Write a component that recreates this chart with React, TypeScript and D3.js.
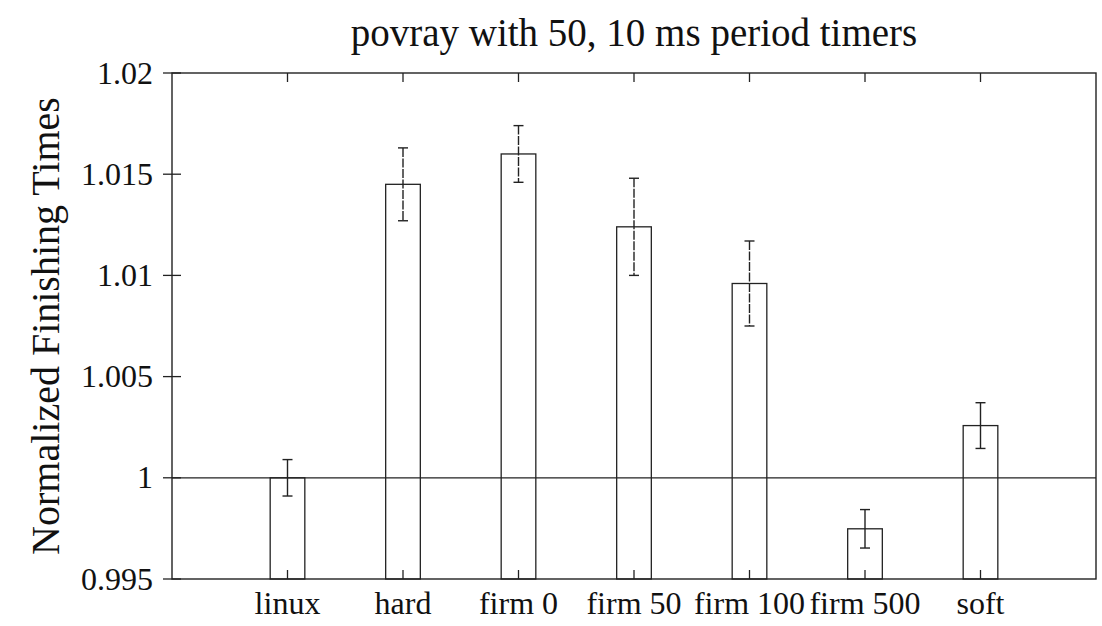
import React from "react";
import * as d3 from "d3";

const categories = ["linux", "hard", "firm 0", "firm 50", "firm 100", "firm 500", "soft"];
const values = [1.0, 1.0145, 1.016, 1.0124, 1.0096, 0.99748, 1.00258];
const errors = [0.0009, 0.0018, 0.0014, 0.0024, 0.0021, 0.00095, 0.00113];
const yTicks = [0.995, 1.0, 1.005, 1.01, 1.015, 1.02];
const yTickLabels = ["0.995", "1", "1.005", "1.01", "1.015", "1.02"];
const title = "povray with 50, 10 ms period timers";
const yLabel = "Normalized Finishing Times";

const W = 1102;
const H = 626;
const left = 172;
const right = 1096;
const top = 73;
const bottom = 579;
const font = `"Liberation Serif", "Times New Roman", serif`;

export default function App() {
  const x = d3.scaleLinear().domain([0, categories.length + 1]).range([left, right]);
  const y = d3.scaleLinear().domain([0.995, 1.02]).range([bottom, top]);
  const barHalf = 0.15;
  const cap = 5;
  const tick = 9;
  const ts = { fontFamily: font };

  return (
    <svg
      width={W}
      height={H}
      style={{ position: "absolute", left: 0, top: 0, background: "#fff" }}
    >
      <rect x={0} y={0} width={W} height={H} fill="#fff" />
      <line x1={left} x2={right} y1={y(1)} y2={y(1)} stroke="#222" strokeWidth={1.3} />
      {values.map((v, i) => {
        const x0 = x(i + 1 - barHalf);
        const x1 = x(i + 1 + barHalf);
        return (
          <rect
            key={"b" + i}
            x={x0}
            y={y(v)}
            width={x1 - x0}
            height={bottom - y(v)}
            fill="none"
            stroke="#222"
            strokeWidth={1.3}
          />
        );
      })}
      {values.map((v, i) => {
        const cx = x(i + 1);
        const yt = y(v + errors[i]);
        const yb = y(v - errors[i]);
        return (
          <g key={"e" + i} stroke="#222" strokeWidth={1.4} fill="none">
            <line x1={cx} x2={cx} y1={yt} y2={yb} strokeDasharray={errors[i] > 0.0012 ? "9,1.5" : undefined} />
            <line x1={cx - cap} x2={cx + cap} y1={yt} y2={yt} />
            <line x1={cx - cap} x2={cx + cap} y1={yb} y2={yb} />
          </g>
        );
      })}
      {categories.map((c, i) => {
        const cx = x(i + 1);
        return (
          <g key={"xt" + i}>
            <line x1={cx} x2={cx} y1={bottom} y2={bottom - tick} stroke="#222" strokeWidth={1.3} />
            <line x1={cx} x2={cx} y1={top} y2={top + tick} stroke="#222" strokeWidth={1.3} />
            <text x={cx} y={614} textAnchor="middle" fontSize={32} fill="#111" style={ts}>
              {c}
            </text>
          </g>
        );
      })}
      {yTicks.map((t, i) => (
        <g key={"yt" + i}>
          <line x1={left - tick} x2={left + tick} y1={y(t)} y2={y(t)} stroke="#222" strokeWidth={1.3} />
          <text x={153} y={y(t)} dy="0.33em" textAnchor="end" fontSize={32} fill="#111" style={ts}>
            {yTickLabels[i]}
          </text>
        </g>
      ))}
      <rect x={left} y={top} width={right - left} height={bottom - top} fill="none" stroke="#222" strokeWidth={1.4} />
      <text x={634} y={46} textAnchor="middle" fontSize={39} fill="#111" style={ts}>
        {title}
      </text>
      <text
        transform={`translate(59, ${(top + bottom) / 2}) rotate(-90)`}
        textAnchor="middle"
        fontSize={40}
        fill="#111"
        style={ts}
      >
        {yLabel}
      </text>
    </svg>
  );
}
